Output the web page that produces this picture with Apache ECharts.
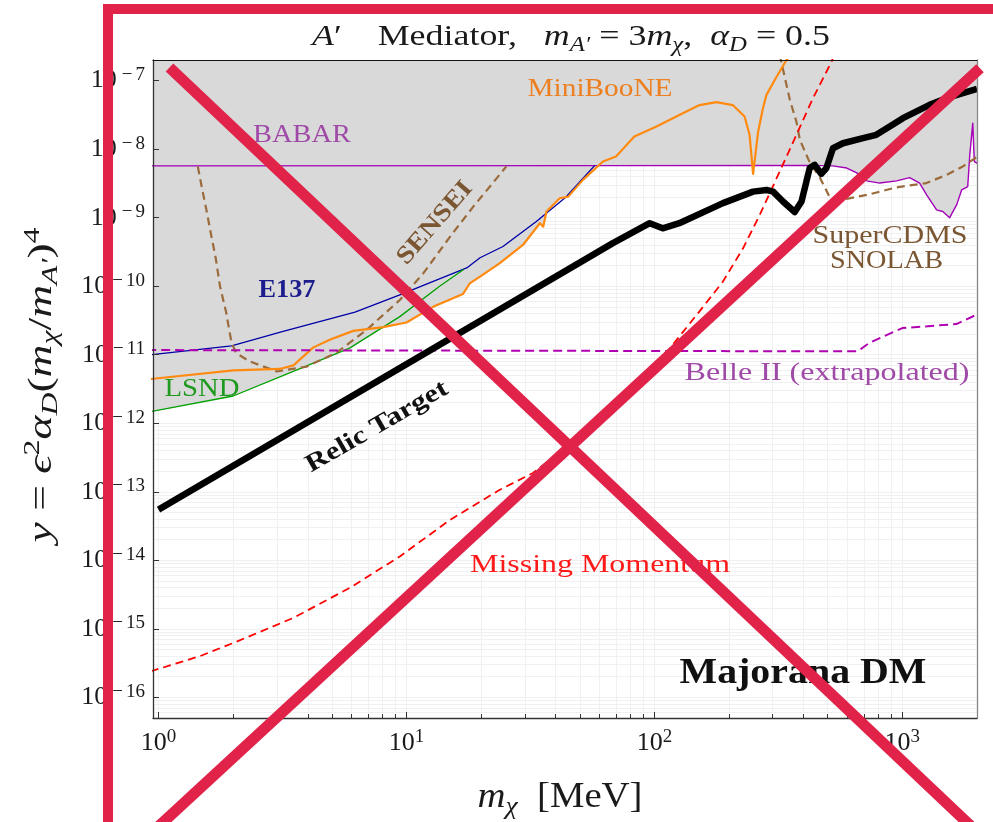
<!DOCTYPE html>
<html><head><meta charset="utf-8">
<script src="https://cdn.jsdelivr.net/npm/echarts@6/dist/echarts.min.js"></script>
<style>html,body{margin:0;padding:0;background:#fff}#c{width:993px;height:822px}</style>
</head><body><div id="c"></div>
<script>
// ---------- data (m_chi in MeV, y dimensionless) ----------
const massRange = [0.95, 2000];
const yRange = [5.0e-17, 2.0e-7];
const xTickExponents = [0, 1, 2, 3];
const yTickExponents = [-16, -15, -14, -13, -12, -11, -10, -9, -8, -7];

const babar = [[0.9,5.7e-9],[60,5.75e-9],[430,5.8e-9],[524,5.7e-9],[597,5.3e-9],[655,4.5e-9],[718,3.45e-9],[810,3.2e-9],[948,3.45e-9],[1070,3.85e-9],[1174,3.2e-9],[1253,2.15e-9],[1374,1.3e-9],[1455,1.23e-9],[1552,1.0e-9],[1657,1.55e-9],[1735,2.55e-9],[1835,2.85e-9],[1870,8.2e-9],[1923,2.4e-8],[1950,6.6e-9],[2010,6.2e-9]];
const e137 = [[0.94,1.0e-11],[1.97,1.35e-11],[3.18,2.2e-11],[6.2,4.2e-11],[9.4,7.5e-11],[17.5,1.85e-10],[19.8,2.6e-10],[24.5,3.8e-10],[33.4,8.8e-10],[44,2.0e-9],[53,4.2e-9],[57.5,5.8e-9]];
const lsnd = [[0.94,1.49e-12],[2.0,2.5e-12],[3.7,6.2e-12],[5.9,1.25e-11],[9.4,3.6e-11],[13.6,1.0e-10],[17,1.75e-10]];
const miniBooNE = [[0.92,4.4e-12],[2.0,5.9e-12],[3.08,6.2e-12],[3.5,7.0e-12],[4.2,1.27e-11],[4.9,1.65e-11],[6.1,2.23e-11],[8.05,2.53e-11],[10,2.95e-11],[12.8,5.0e-11],[16.9,7.7e-11],[18,1.1e-10],[19.8,1.38e-10],[23.8,2.17e-10],[29.5,4.0e-10],[34.5,8.3e-10],[35.6,7.4e-10],[36.7,1.23e-9],[41.5,1.92e-9],[44.9,2.03e-9],[51.5,3.56e-9],[62,6.6e-9],[70,7.8e-9],[83,1.53e-8],[102,2.14e-8],[126,3.16e-8],[152,4.4e-8],[178,4.85e-8],[207,4.4e-8],[231,3.0e-8],[242,1.62e-8],[250,4.35e-9],[262,1.8e-8],[274,3.96e-8],[283,6.2e-8],[311,1.14e-7],[341,2.0e-7],[357,2.4e-7]];
const sensei = [[1.44,5.6e-9],[1.50,2.6e-9],[1.56,1.3e-9],[1.63,5.6e-10],[1.70,2.6e-10],[1.77,1.0e-10],[1.87,4.3e-11],[1.97,1.5e-11],[2.06,1.05e-11],[2.33,8.0e-12],[3.0,5.7e-12],[3.95,6.7e-12],[5.2,1.06e-11],[6.9,2.3e-11],[9.4,6.3e-11],[11.7,1.55e-10],[15,5.3e-10],[18.6,1.45e-9],[25.3,5.6e-9]];
const superCDMS = [[320,2.4e-7],[352,5.2e-8],[374,2.5e-8],[386,1.37e-8],[423,6.4e-9],[464,3.9e-9],[509,2.0e-9],[595,1.88e-9],[738,2.2e-9],[946,2.77e-9],[1250,3.2e-9],[1504,4.2e-9],[1754,5.6e-9],[2010,7.8e-9]];
const belleII = [[0.9,1.17e-11],[660,1.12e-11],[738,1.5e-11],[1000,2.45e-11],[1650,2.8e-11],[2010,3.9e-11]];
const missingMomentum = [[0.93,2.4e-16],[1.47,4.0e-16],[2.0,6.2e-16],[3.49,1.44e-15],[5.9,3.95e-15],[9.4,1.14e-14],[15,3.9e-14],[23.8,1.07e-13],[32.4,1.88e-13],[44.1,4.55e-13],[54.8,9.2e-13],[79.6,3.3e-12],[115,1.22e-11],[152,4.3e-11],[189,1.17e-10],[228,3.6e-10],[266,1.1e-9],[320,4.7e-9],[374,1.62e-8],[436,5.54e-8],[518,1.89e-7],[535,2.5e-7]];
const relicTarget = [[1.0,5.5e-14],[68,4.25e-10],[95.7,8.3e-10],[108,7.0e-10],[126,8.3e-10],[189,1.63e-9],[250,2.4e-9],[283,2.54e-9],[301,2.4e-9],[330,1.72e-9],[368,1.21e-9],[392,1.72e-9],[423,5.3e-9],[443,5.9e-9],[471,4.35e-9],[494,5.3e-9],[525,1.03e-8],[576,1.22e-8],[694,1.45e-8],[785,1.62e-8],[889,2.14e-8],[1005,2.83e-8],[1288,4.43e-8],[1504,5.54e-8],[1754,6.56e-8],[2000,7.6e-8]];
// lower edge of the grey excluded region
const excludedEdge = [[0.94,1.49e-12],[2.0,2.5e-12],[3.7,6.2e-12],[5.9,1.25e-11],[8.05,2.53e-11],[10,2.95e-11],[12.8,5.0e-11],[16.9,7.7e-11],[18,1.1e-10],[19.8,1.38e-10],[23.8,2.17e-10],[29.5,4.0e-10],[34.5,8.3e-10],[35.6,7.4e-10],[36.7,1.23e-9],[41.5,1.92e-9],[44.9,2.03e-9],[51.5,3.56e-9],[59.5,5.75e-9],[430,5.8e-9],[524,5.7e-9],[597,5.3e-9],[655,4.5e-9],[718,3.45e-9],[810,3.2e-9],[948,3.45e-9],[1070,3.85e-9],[1174,3.2e-9],[1253,2.15e-9],[1374,1.3e-9],[1455,1.23e-9],[1552,1.0e-9],[1657,1.55e-9],[1735,2.55e-9],[1835,2.85e-9],[1870,8.2e-9],[1923,2.4e-8],[1950,6.6e-9],[2010,6.2e-9]];

// ---------- helpers ----------
const SERIF = '"Liberation Serif","DejaVu Serif",serif';
const lg = pts => pts.map(p => [Math.log10(p[0]), Math.log10(p[1])]);
const xMin = Math.log10(massRange[0]), xMax = Math.log10(massRange[1]);
const yMin = Math.log10(yRange[0]), yMax = Math.log10(yRange[1]);
const minorX = [], minorY = [];
for (let n = -1; n <= 3; n++) for (let k = 2; k <= 9; k++) { const v = Math.log10(k * Math.pow(10, n)); if (v > xMin && v < xMax) minorX.push(v); }
for (let n = -17; n <= -7; n++) for (let k = 2; k <= 9; k++) { const v = Math.log10(k * Math.pow(10, n)); if (v > yMin && v < yMax) minorY.push(v); }
const gridX = xTickExponents.concat(minorX), gridY = yTickExponents.concat(minorY);

const labelRich = {
  b: {fontSize: 26, fontFamily: SERIF, color: '#1a1a1a', lineHeight: 30},
  s: {fontSize: 19, fontFamily: SERIF, color: '#1a1a1a', lineHeight: 16, verticalAlign: 'top'},
  m: {fontSize: 19, fontFamily: SERIF, color: '#1a1a1a', lineHeight: 16, verticalAlign: 'top', padding: [0, 3, 0, 5]}
};
const mathRich = (fs) => ({
  i: {fontSize: fs, fontFamily: SERIF, fontStyle: 'italic', fontWeight: 'normal', fill: '#1a1a1a', color: '#1a1a1a', lineHeight: fs + 8},
  n: {fontSize: fs, fontFamily: SERIF, fontStyle: 'normal', fontWeight: 'normal', fill: '#1a1a1a', color: '#1a1a1a', lineHeight: fs + 8},
  sb: {fontSize: Math.round(fs * 0.7), fontFamily: SERIF, fontStyle: 'italic', fontWeight: 'normal', fill: '#1a1a1a', color: '#1a1a1a', lineHeight: 8, verticalAlign: 'bottom'},
  sp: {fontSize: Math.round(fs * 0.7), fontFamily: SERIF, fontStyle: 'normal', fontWeight: 'normal', fill: '#1a1a1a', color: '#1a1a1a', lineHeight: 14, verticalAlign: 'top'}
});
const mctx = document.createElement('canvas').getContext('2d');
function richBlock(tokens, fs) {
  const st = mathRich(fs);
  let str = '', w = 0;
  tokens.forEach(([k, t]) => {
    str += '{' + k + '|' + t + '}';
    const s = st[k];
    mctx.font = s.fontStyle + ' ' + s.fontSize + 'px ' + SERIF;
    w += mctx.measureText(t).width;
  });
  return {str, w, rich: st};
}

function lineSeries(name, data, color, width, dash, z) {
  return {name, type: 'line', data: lg(data), xAxisIndex: 0, yAxisIndex: 0, showSymbol: false, symbol: 'none',
    clip: true, z: z || 3, silent: true,
    lineStyle: {color, width, type: dash || 'solid', cap: 'butt', join: 'round'}};
}

const chart = echarts.init(document.getElementById('c'), null, {renderer: 'canvas'});
const grid = {left: 153, top: 60, width: 824, height: 658, containLabel: false};

const option = {
  animation: false,
  backgroundColor: '#fff',
  grid,
  xAxis: [
    {type: 'value', min: xMin, max: xMax, position: 'bottom', z: 0,
      axisLine: {show: false}, axisLabel: {show: false},
      axisTick: {show: false, customValues: gridX},
      splitLine: {show: true, lineStyle: {color: '#f0f0f0', width: 1}}},
    {type: 'value', min: xMin, max: xMax, position: 'bottom', z: 5,
      axisLine: {show: true, onZero: false, lineStyle: {color: '#333', width: 1.3}},
      axisTick: {show: true, inside: true, length: 6, customValues: xTickExponents, lineStyle: {color: '#333', width: 1}},
      axisLabel: {show: true, customValues: xTickExponents, margin: 10, formatter: v => '{b|10}{s|' + v + '}', rich: labelRich},
      splitLine: {show: false}},
    {type: 'value', min: xMin, max: xMax, position: 'bottom', z: 5,
      axisLine: {show: false}, axisLabel: {show: false}, splitLine: {show: false},
      axisTick: {show: true, inside: true, length: 4, customValues: minorX, lineStyle: {color: '#333', width: 1}}},
    {type: 'value', min: xMin, max: xMax, position: 'top', z: 5,
      axisLine: {show: true, onZero: false, lineStyle: {color: '#111', width: 1}},
      axisTick: {show: false}, axisLabel: {show: false}, splitLine: {show: false}}
  ],
  yAxis: [
    {type: 'value', min: yMin, max: yMax, position: 'left', z: 0,
      axisLine: {show: false}, axisLabel: {show: false},
      axisTick: {show: false, customValues: gridY},
      splitLine: {show: true, lineStyle: {color: '#f0f0f0', width: 1}}},
    {type: 'value', min: yMin, max: yMax, position: 'left', z: 5,
      axisLine: {show: true, onZero: false, lineStyle: {color: '#333', width: 1.3}},
      axisTick: {show: true, inside: true, length: 6, customValues: yTickExponents, lineStyle: {color: '#333', width: 1}},
      axisLabel: {show: true, customValues: yTickExponents, margin: 8, formatter: v => '{b|10}{m|−}{s|' + (-v) + '}', rich: labelRich},
      splitLine: {show: false}},
    {type: 'value', min: yMin, max: yMax, position: 'right', z: 5,
      axisLine: {show: true, onZero: false, lineStyle: {color: '#888', width: 1.3}},
      axisTick: {show: false}, axisLabel: {show: false}, splitLine: {show: false}}
  ],
  series: [
    {name: 'excluded', type: 'line', data: lg(excludedEdge), xAxisIndex: 0, yAxisIndex: 0, showSymbol: false, symbol: 'none',
      clip: true, z: 1, silent: true, lineStyle: {width: 0, opacity: 0},
      areaStyle: {color: '#d9d9d9', opacity: 1, origin: 'end'}},
    lineSeries('BABAR', babar, '#a300b8', 1.4),
    lineSeries('E137', e137, '#0000a8', 1.3),
    lineSeries('LSND', lsnd, '#00a000', 1.3),
    lineSeries('SENSEI', sensei, '#9c6b3c', 2.2, [8, 5]),
    lineSeries('SuperCDMS SNOLAB', superCDMS, '#9c6b3c', 2.2, [8, 5]),
    lineSeries('MiniBooNE', miniBooNE, '#ff8a10', 2.2),
    lineSeries('Belle II', belleII, '#b000b0', 2, [9, 5]),
    lineSeries('Missing Momentum', missingMomentum, '#ff0000', 1.8, [8, 5]),
    lineSeries('Relic Target', relicTarget, '#000000', 6.5, null, 4)
  ]
};

const graphics = [];
// ---------- title and axis names (rich math text) ----------
const mathTexts = [
  {tokens: [['i','A'],['n','′    Mediator,   '],['i','m'],['sb','A′'],['n',' = 3'],['i','m'],['sb','χ'],['n',',  '],['i','α'],['sb','D'],['n',' = 0.5']],
    fs: 29, x: 571, y: 37, w: 518, r: 0},
  {tokens: [['i','m'],['sb','χ'],['n','  [MeV]']], fs: 35, x: 560, y: 798, w: 165, r: 0},
  {tokens: [['i','y'],['n',' = '],['i','ϵ'],['sp','2'],['i','α'],['sb','D'],['n','('],['i','m'],['sb','χ'],['n','/'],['i','m'],['sb','A′'],['n',')'],['sp','4']],
    fs: 33, x: 42, y: 385, w: 315, r: 90}
];
mathTexts.forEach(m => {
  const rb = richBlock(m.tokens, m.fs);
  graphics.push({type: 'text', x: m.x, y: m.y, rotation: m.r * Math.PI / 180, scaleX: m.w / rb.w, z: 40, silent: true,
    style: {text: rb.str, rich: rb.rich, fontSize: m.fs, fontFamily: SERIF, fill: '#1a1a1a',
      textAlign: 'center', textVerticalAlign: 'middle', align: 'center', verticalAlign: 'middle'}});
});

// ---------- annotation texts ----------
const labelSpecs = [
  {t: 'BABAR', x: 302, y: 135.5, w: 98, fs: 25, fw: 'normal', c: '#a04aa8', r: 0},
  {t: 'MiniBooNE', x: 600, y: 89, w: 145, fs: 25, fw: 'normal', c: '#ec8020', r: 0},
  {t: 'E137', x: 287, y: 291, w: 57, fs: 25, fw: 'bold', c: '#1c1c8c', r: 0},
  {t: 'LSND', x: 202, y: 389, w: 75, fs: 25, fw: 'normal', c: '#1f9a1f', r: 0},
  {t: 'SENSEI', x: 435, y: 223, w: 102, fs: 25, fw: 'bold', c: '#7a5632', r: 49},
  {t: 'Relic Target', x: 377, y: 427, w: 160, fs: 25, fw: 'bold', c: '#111111', r: 30},
  {t: 'Missing Momentum', x: 600, y: 565, w: 260, fs: 26, fw: 'normal', c: '#ff1a1a', r: 0},
  {t: 'SuperCDMS', x: 890, y: 236, w: 155, fs: 25, fw: 'normal', c: '#7a5632', r: 0},
  {t: 'SNOLAB', x: 886.5, y: 261, w: 113, fs: 25, fw: 'normal', c: '#7a5632', r: 0},
  {t: 'Belle II (extrapolated)', x: 827, y: 373, w: 285, fs: 25, fw: 'normal', c: '#a04aa8', r: 0},
  {t: 'Majorana DM', x: 803, y: 674, w: 247, fs: 36, fw: 'bold', c: '#111111', r: 0}
];
labelSpecs.forEach(s => {
  mctx.font = s.fw + ' ' + s.fs + 'px ' + SERIF;
  const sc = s.w / mctx.measureText(s.t).width;
  graphics.push({type: 'text', x: s.x, y: s.y, rotation: s.r * Math.PI / 180, scaleX: sc, scaleY: 1, z: 50, silent: true,
    style: {text: s.t, x: 0, y: 0, fill: s.c, fontSize: s.fs, fontWeight: s.fw, fontFamily: SERIF,
      textAlign: 'center', textVerticalAlign: 'middle', align: 'center', verticalAlign: 'middle'}});
});
// red overlay strokes on top of the picture
const RED = '#e1234a';
[[108, 4, 108, 822, 10], [103, 9, 993, 9, 10], [169.5, 67.6, 975, 830, 11], [980, 68.3, 154.7, 830, 11]].forEach(l => {
  graphics.push({type: 'line', z: 100, silent: true, shape: {x1: l[0], y1: l[1], x2: l[2], y2: l[3]},
    style: {stroke: RED, lineWidth: l[4], lineCap: 'butt'}});
});
option.graphic = {elements: graphics};
chart.setOption(option);
</script>
</body></html>
